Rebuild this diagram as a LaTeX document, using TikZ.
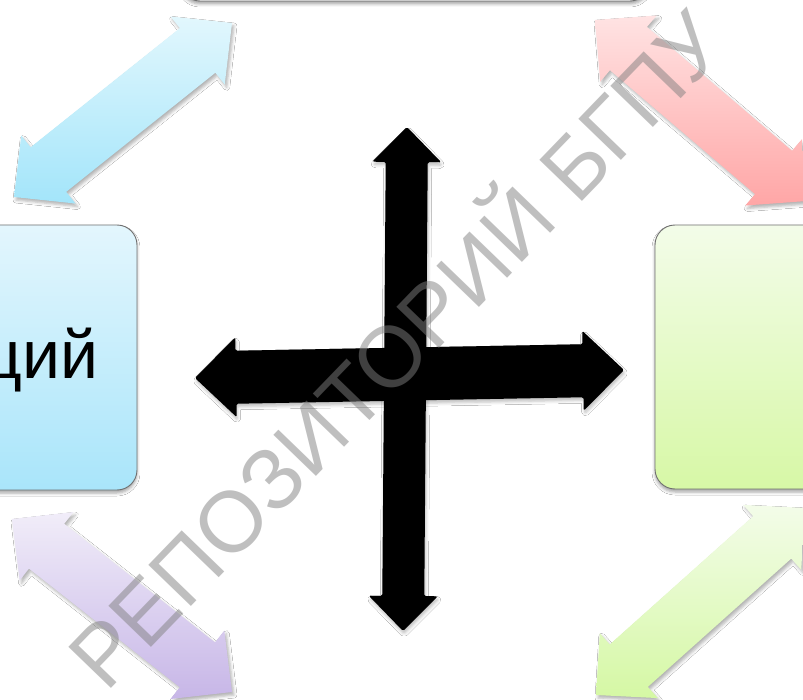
\documentclass[tikz,border=0pt]{standalone}
\usepackage{fontspec}
\setmainfont{Liberation Sans}
\usetikzlibrary{calc,shadows,shadows.blur}
\definecolor{bluetop}{HTML}{E2F7FD}
\definecolor{bluebot}{HTML}{A3E5FA}
\definecolor{redtop}{HTML}{FFE3E3}
\definecolor{redbot}{HTML}{FFA6A6}
\definecolor{purtop}{HTML}{F1EDF9}
\definecolor{purbot}{HTML}{C7B6E7}
\definecolor{grntop}{HTML}{F3FCE9}
\definecolor{grnbot}{HTML}{D5F8A4}
\definecolor{boxblue1}{HTML}{E3F6FD}
\definecolor{boxblue2}{HTML}{A9E5FA}
\definecolor{boxgrn1}{HTML}{F3FCE9}
\definecolor{boxgrn2}{HTML}{D7F8A6}
\definecolor{boxline}{HTML}{707070}
\newcommand{\dblarrowshape}[6]{%
  \path[#6] (#1)
    -- ($(#1)!#5!(#2)!#4!90:(#2)$)
    -- ($(#1)!#5!(#2)!#3!90:(#2)$)
    -- ($(#2)!#5!(#1)!#3!-90:(#1)$)
    -- ($(#2)!#5!(#1)!#4!-90:(#1)$)
    -- (#2)
    -- ($(#2)!#5!(#1)!#4!90:(#1)$)
    -- ($(#2)!#5!(#1)!#3!90:(#1)$)
    -- ($(#1)!#5!(#2)!#3!-90:(#2)$)
    -- ($(#1)!#5!(#2)!#4!-90:(#2)$)
    -- cycle;}
\tikzset{
  boxstyle/.style={draw=boxline, line width=0.9pt, rounded corners=20pt, inner sep=0pt,
    blur shadow={shadow xshift=0pt, shadow yshift=-3pt, shadow blur radius=3pt, shadow opacity=35}},
  diagarrow/.style={blur shadow={shadow xshift=2pt, shadow yshift=-3pt, shadow blur radius=3pt, shadow opacity=30}},
  crossarrow/.style={fill=black, rounded corners=1.5pt,
    blur shadow={shadow xshift=1pt, shadow yshift=-3pt, shadow blur radius=3pt, shadow opacity=25}},
  watermark/.style={text=gray, text opacity=0.5, inner sep=0pt, font=\fontsize{86}{100}\selectfont}
}
\begin{document}
\begin{tikzpicture}[x=1pt, y=-1pt]
\useasboundingbox (0,0) rectangle (803,700);
\clip (0,0) rectangle (803,700);
\fill[white] (0,0) rectangle (803,700);
% boxes
\node[boxstyle, fill=white, minimum width=470pt, minimum height=201pt] (topbox) at (415,-99.5) {};
\node[boxstyle, top color=boxblue1, bottom color=boxblue2, minimum width=287pt, minimum height=265pt] (leftbox) at (-6.5,357.5) {};
\node[boxstyle, top color=boxgrn1, bottom color=boxgrn2, minimum width=295pt, minimum height=264pt] (rightbox) at (802.5,357) {};
\node[anchor=base east, inner sep=0pt, font=\fontsize{68}{80}\selectfont] (lefttext) at (99,378) {ций};
% tips of the diagonal arrows
\coordinate (blA) at (14,197);
\coordinate (blB) at (232,23);
\coordinate (rdA) at (595,20);
\coordinate (rdB) at (807,201);
\coordinate (puA) at (12,519);
\coordinate (puB) at (232,692);
\coordinate (grA) at (596,695);
\coordinate (grB) at (805,508);
\dblarrowshape{blA}{blB}{28.5pt}{43.5pt}{44pt}{diagarrow, top color=bluetop, bottom color=bluebot}
\dblarrowshape{rdA}{rdB}{28.5pt}{43.5pt}{44pt}{diagarrow, top color=redtop, bottom color=redbot}
\dblarrowshape{puA}{puB}{28.5pt}{43.5pt}{44pt}{diagarrow, top color=purtop, bottom color=purbot}
\dblarrowshape{grA}{grB}{28.5pt}{43.5pt}{44pt}{diagarrow, top color=grntop, bottom color=grnbot}
% central cross
\coordinate (vT) at (407,127);
\coordinate (vB) at (403,631);
\coordinate (hL) at (195,378);
\coordinate (hR) at (624,370);
\dblarrowshape{vT}{vB}{21pt}{34.5pt}{35pt}{crossarrow}
\dblarrowshape{hL}{hR}{26.5pt}{40pt}{41pt}{crossarrow}
% watermark
\node[watermark, rotate=46, anchor=base] (wm) at (418,371) {РЕПОЗИТОРИЙ БГПУ};
\end{tikzpicture}
\end{document}
